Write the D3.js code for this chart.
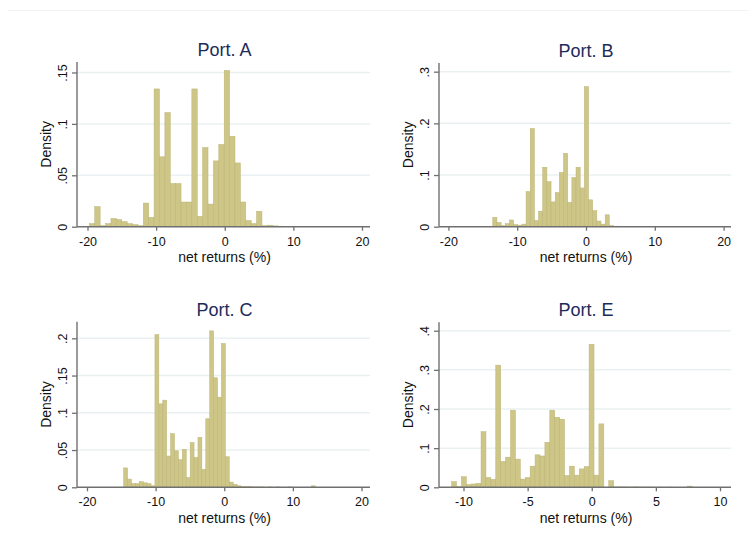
<!DOCTYPE html>
<html>
<head>
<meta charset="utf-8">
<script src="https://cdn.jsdelivr.net/npm/d3@7"></script>
<style>
  body { margin: 0; background: #fff; }
  text { font-family: "Liberation Sans", Arial, Helvetica, sans-serif; }
</style>
</head>
<body>
<svg id="chart"></svg>
<script>
const width = 748, height = 550;

// densities per bin (50 bins each)
const portA = [0.003, 0.0195, 0.001, 0.003, 0.008, 0.007, 0.005, 0.003, 0.002, 0.001,
    0.023, 0.009, 0.134, 0.068, 0.111, 0.042, 0.042, 0.024, 0.024, 0.134,
    0.010, 0.077, 0.022, 0.064, 0.080, 0.152, 0.088, 0.062, 0.024, 0.006,
    0.003, 0.015, 0.001, 0.0015, 0.0008, 0.0005, 0.0003, 0, 0, 0.0003,
    0, 0, 0, 0, 0, 0, 0, 0, 0, 0.0003];
const portB = [0.018, 0.008, 0.002, 0.006, 0.013, 0.004, 0.003, 0.005, 0.068, 0.19,
    0.012, 0.030, 0.115, 0.087, 0.048, 0.066, 0.105, 0.142, 0.047, 0.095,
    0.115, 0.075, 0.271, 0.052, 0.031, 0.011, 0.005, 0.023, 0.002, 0.001,
    0.001, 0.0008, 0.0005, 0.0008, 0.0005, 0, 0.0005, 0.0005, 0, 0.0005,
    0.0005, 0, 0.0005, 0, 0, 0.0005, 0, 0, 0.0005, 0];
const portC = [0.026, 0.011, 0.005, 0.005, 0.0076, 0.006, 0.005, 0.002, 0.205, 0.112,
    0.117, 0.042, 0.072, 0.049, 0.037, 0.051, 0.013, 0.060, 0.040, 0.067,
    0.024, 0.092, 0.210, 0.147, 0.121, 0.193, 0.041, 0.007, 0.004, 0.002,
    0.001, 0.001, 0.0008, 0.0005, 0.0005, 0.0005, 0, 0.0005, 0, 0.0005,
    0, 0, 0.0005, 0, 0, 0, 0, 0, 0.002, 0];
const portE = [0.0145, 0.002, 0.027, 0.007, 0.0085, 0.010, 0.142, 0.025, 0.020, 0.312,
    0.066, 0.077, 0.197, 0.072, 0.021, 0.025, 0.054, 0.083, 0.080, 0.115,
    0.197, 0.179, 0.174, 0.030, 0.054, 0.031, 0.047, 0.053, 0.365, 0.031,
    0.162, 0, 0.017, 0.001, 0.001, 0.0008, 0.0005, 0.001, 0.0005, 0.0005,
    0.0005, 0, 0.0005, 0, 0.0005, 0, 0, 0, 0.003, 0];

// first bin edge and bin width (net returns, %)
const binStart = { A: -19.73, B: -13.55, C: -14.66, E: -10.93 };
const binWidth = { A: 0.786, B: 0.605, C: 0.57, E: 0.383 };

const titles = ["Port. A", "Port. B", "Port. C", "Port. E"];
const xTicksWide = [-20, -10, 0, 10, 20];
const xTicksNarrow = [-10, -5, 0, 5, 10];
const yTicksA = [0, 0.05, 0.1, 0.15];
const yTicksB = [0, 0.1, 0.2, 0.3];
const yTicksC = [0, 0.05, 0.1, 0.15, 0.2];
const yTicksE = [0, 0.1, 0.2, 0.3, 0.4];

const panels = [
    { key: "A", title: titles[0], values: portA, xTicks: xTicksWide, yTicks: yTicksA,
      left: 77, right: 370, top: 62, bottom: 226.7, px: [87.5, 362], yTop: 0.1602 },
    { key: "B", title: titles[1], values: portB, xTicks: xTicksWide, yTicks: yTicksB,
      left: 439, right: 731, top: 63, bottom: 226.7, px: [448.4, 723.6], yTop: 0.3168 },
    { key: "C", title: titles[2], values: portC, xTicks: xTicksWide, yTicks: yTicksC,
      left: 77, right: 370, top: 321.7, bottom: 487.3, px: [87, 361.5], yTop: 0.2223 },
    { key: "E", title: titles[3], values: portE, xTicks: xTicksNarrow, yTicks: yTicksE,
      left: 439, right: 731, top: 322.3, bottom: 487.3, px: [463.5, 720], yTop: 0.4215 }
];

const axisColor = "#707070";
// Stata style labels: plain hyphen, no leading zero
const fmtX = d => String(d);
const fmtY = d => d === 0 ? "0" : String(d).replace(/^0\./, ".");

const svg = d3.select("#chart").attr("width", width).attr("height", height);
svg.append("rect").attr("width", width).attr("height", height).attr("fill", "#fff");

// faint rule at the top of the picture
svg.append("line")
    .attr("x1", 8).attr("x2", width).attr("y1", 10.5).attr("y2", 10.5)
    .attr("stroke", "#f2f2f2").attr("stroke-width", 1);

const drawPanel = (p) => {
    const ticks = p.xTicks;
    const x = d3.scaleLinear()
        .domain([ticks[0], ticks[ticks.length - 1]])
        .range(p.px);
    const y = d3.scaleLinear()
        .domain([0, p.yTop])
        .range([p.bottom, p.top]);

    const bins = p.values.map((v, i) => ({
        x0: binStart[p.key] + i * binWidth[p.key],
        x1: binStart[p.key] + (i + 1) * binWidth[p.key],
        density: v
    }));

    const g = svg.append("g");

    // grid lines
    g.append("g")
        .selectAll("line")
        .data(p.yTicks.filter(d => d > 0))
        .join("line")
        .attr("x1", p.left).attr("x2", p.right)
        .attr("y1", d => y(d)).attr("y2", d => y(d))
        .attr("stroke", "#eaf1f2").attr("stroke-width", 1.5);

    // bars
    g.append("g")
        .selectAll("rect")
        .data(bins.filter(d => d.density > 0))
        .join("rect")
        .attr("x", d => x(d.x0))
        .attr("width", d => x(d.x1) - x(d.x0))
        .attr("y", d => y(d.density))
        .attr("height", d => y(0) - y(d.density))
        .attr("fill", "#cdc686")
        .attr("stroke", "#bbb477")
        .attr("stroke-width", 0.5);

    // x axis
    g.append("g")
        .attr("transform", `translate(0,${p.bottom})`)
        .call(d3.axisBottom(x).tickValues(ticks).tickSize(4).tickPadding(3).tickFormat(fmtX))
        .call(a => a.select(".domain").remove())
        .call(a => a.selectAll(".tick line").attr("stroke", axisColor).attr("stroke-width", 1.3))
        .call(a => a.selectAll(".tick text")
            .attr("fill", "#111").attr("font-size", 12.5)
            .attr("dy", 0).attr("y", 19));

    g.append("line")
        .attr("x1", p.left).attr("x2", p.right)
        .attr("y1", p.bottom).attr("y2", p.bottom)
        .attr("stroke", axisColor).attr("stroke-width", 1.4);

    // y axis
    g.append("g")
        .attr("transform", `translate(${p.left},0)`)
        .call(d3.axisLeft(y).tickValues(p.yTicks).tickSize(5).tickFormat(fmtY))
        .call(a => a.select(".domain").remove())
        .call(a => a.selectAll(".tick line").attr("stroke", axisColor).attr("stroke-width", 1.3))
        .call(a => a.selectAll(".tick text")
            .attr("fill", "#111").attr("font-size", 12.5)
            .attr("transform", "rotate(-90)")
            .attr("x", 0).attr("y", -10).attr("dy", 0)
            .attr("text-anchor", "middle"));

    g.append("line")
        .attr("x1", p.left).attr("x2", p.left)
        .attr("y1", p.top).attr("y2", p.bottom)
        .attr("stroke", axisColor).attr("stroke-width", 1.4);

    const cx = (p.left + p.right) / 2 + 1;

    g.append("text")
        .attr("x", cx).attr("y", p.top - 6)
        .attr("text-anchor", "middle")
        .attr("font-size", 18)
        .attr("fill", "#1d2b5b")
        .text(p.title);

    g.append("text")
        .attr("x", cx).attr("y", p.bottom + 35.5)
        .attr("text-anchor", "middle")
        .attr("font-size", 14)
        .attr("fill", "#111")
        .text("net returns (%)");

    g.append("text")
        .attr("transform", `translate(${p.left - 26.5},${(p.top + p.bottom) / 2}) rotate(-90)`)
        .attr("text-anchor", "middle")
        .attr("font-size", 14)
        .attr("fill", "#111")
        .text("Density");
};

panels.forEach(drawPanel);
</script>
</body>
</html>
